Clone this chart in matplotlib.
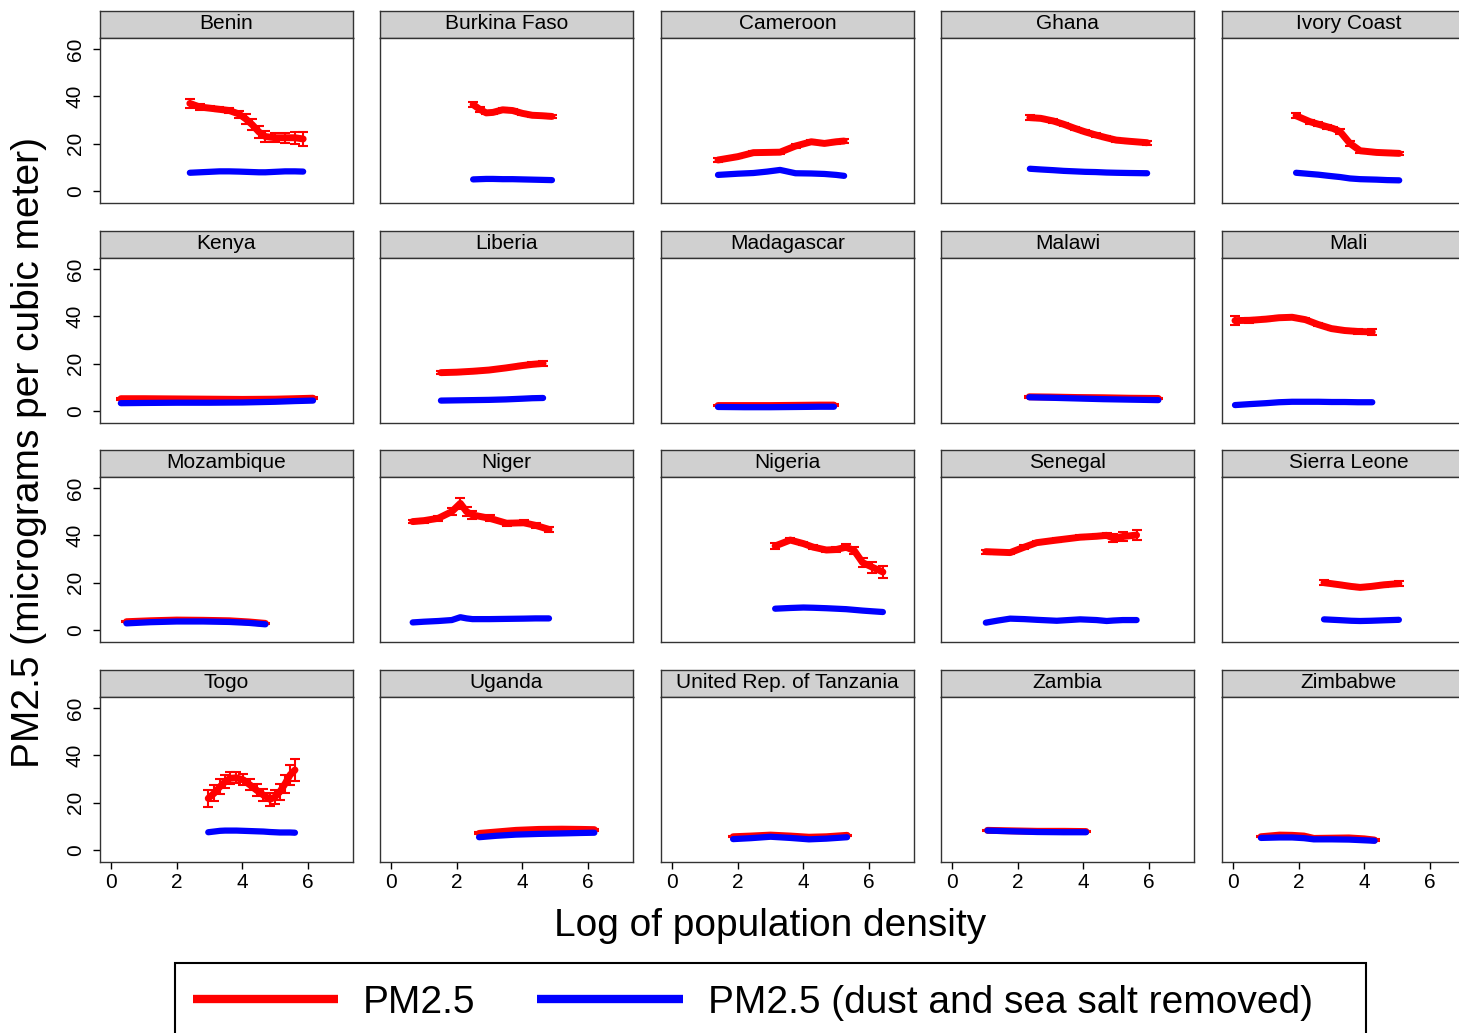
import matplotlib
matplotlib.use("Agg")
import matplotlib.pyplot as plt
from matplotlib.lines import Line2D
from matplotlib.patches import Rectangle

plt.rcParams['font.family'] = ['Liberation Sans', 'DejaVu Sans']

# ---------------------------------------------------------------- data
countries = [
    "Benin", "Burkina Faso", "Cameroon", "Ghana", "Ivory Coast",
    "Kenya", "Liberia", "Madagascar", "Malawi", "Mali",
    "Mozambique", "Niger", "Nigeria", "Senegal", "Sierra Leone",
    "Togo", "Uganda", "United Rep. of Tanzania", "Zambia", "Zimbabwe",
]

# log of population density at which each curve is evaluated
log_density = {
    "Benin": [2.4, 2.7, 3.0, 3.3, 3.6, 3.9, 4.1, 4.3, 4.5, 4.7, 5.0, 5.3, 5.6, 5.85],
    "Burkina Faso": [2.5, 2.7, 2.9, 3.1, 3.4, 3.7, 4.0, 4.3, 4.6, 4.9],
    "Cameroon": [1.4, 2.0, 2.48, 2.9, 3.29, 3.76, 4.24, 4.64, 5.0, 5.24],
    "Ghana": [2.37, 2.7, 3.08, 3.4, 3.73, 4.05, 4.37, 4.7, 5.0, 5.4, 5.94],
    "Ivory Coast": [1.92, 2.34, 2.6, 2.85, 3.05, 3.26, 3.56, 3.87, 4.37, 4.7, 5.06],
    "Kenya": [0.3, 1.0, 2.0, 3.0, 4.0, 5.0, 5.6, 6.15],
    "Liberia": [1.52, 2.0, 2.5, 2.98, 3.5, 4.0, 4.3, 4.63],
    "Madagascar": [1.4, 2.2, 3.0, 3.8, 4.5, 4.93],
    "Malawi": [2.35, 3.0, 3.8, 4.6, 5.4, 6.28],
    "Mali": [0.06, 0.5, 1.0, 1.4, 1.8, 2.2, 2.6, 3.0, 3.4, 3.8, 4.24],
    "Mozambique": [0.47, 1.2, 2.0, 2.8, 3.6, 4.2, 4.7],
    "Niger": [0.66, 1.0, 1.44, 1.85, 2.11, 2.3, 2.48, 3.0, 3.52, 4.04, 4.4, 4.81],
    "Nigeria": [3.14, 3.6, 4.0, 4.3, 4.7, 5.0, 5.3, 5.55, 5.8, 6.1, 6.42],
    "Senegal": [1.03, 1.4, 1.77, 2.2, 2.58, 3.19, 3.9, 4.4, 4.71, 4.91, 5.2, 5.62],
    "Sierra Leone": [2.77, 3.2, 3.6, 3.87, 4.2, 4.6, 5.05],
    "Togo": [2.96, 3.14, 3.32, 3.47, 3.62, 3.82, 4.03, 4.23, 4.43, 4.64, 4.84,
             4.99, 5.14, 5.3, 5.45, 5.6],
    "Uganda": [2.68, 3.2, 3.8, 4.5, 5.2, 5.8, 6.19],
    "United Rep. of Tanzania": [1.86, 2.4, 3.0, 3.6, 4.17, 4.7, 5.33],
    "Zambia": [1.08, 1.8, 2.6, 3.4, 4.08],
    "Zimbabwe": [0.85, 1.42, 1.8, 2.16, 2.46, 3.0, 3.53, 4.0, 4.31],
}

# total PM2.5 (micrograms per cubic meter)
pm25 = {
    "Benin": [37, 35.5, 35, 34.5, 34, 32.5, 30.5, 28, 25, 23, 22.5, 22.5, 22.5, 22],
    "Burkina Faso": [36.5, 34.5, 33, 33.2, 34.3, 34, 32.8, 32, 31.8, 31.5],
    "Cameroon": [13.1, 14.5, 16.2, 16.3, 16.4, 19, 20.8, 20.1, 20.8, 21.1],
    "Ghana": [31, 30.7, 29.6, 28.2, 26.5, 25, 23.7, 22.5, 21.5, 21, 20.4],
    "Ivory Coast": [31.8, 29.3, 28.2, 27.2, 26.4, 25.1, 20.1, 17.0, 16.3, 16.1, 15.9],
    "Kenya": [5.2, 5.2, 5.1, 5.0, 4.9, 5.0, 5.2, 5.4],
    "Liberia": [16.2, 16.4, 16.8, 17.3, 18.2, 19.2, 19.7, 20.1],
    "Madagascar": [2.3, 2.3, 2.3, 2.4, 2.5, 2.5],
    "Malawi": [6.0, 5.9, 5.7, 5.6, 5.4, 5.3],
    "Mali": [38.2, 38.3, 38.8, 39.4, 39.6, 38.6, 36.5, 34.8, 34.0, 33.6, 33.4],
    "Mozambique": [3.5, 3.9, 4.2, 4.1, 3.9, 3.4, 2.8],
    "Niger": [45.8, 46.2, 47.2, 50, 53.5, 50, 48.6, 47.2, 45.1, 45.3, 44.2, 42.5],
    "Nigeria": [35.5, 38, 36.5, 35, 33.8, 34, 35, 33.5, 28.5, 26.5, 24.5],
    "Senegal": [33.1, 32.9, 32.7, 35, 36.9, 38, 39.2, 39.6, 40, 38.8, 39.5, 40.1],
    "Sierra Leone": [20.0, 19.2, 18.4, 18.0, 18.4, 19.1, 19.6],
    "Togo": [21.8, 24, 26.8, 28.8, 30.3, 30.5, 29.6, 27.5, 25.3, 23.2, 21.4,
             22.4, 24.6, 28, 31.7, 33.8],
    "Uganda": [7.0, 7.6, 8.3, 8.7, 8.8, 8.7, 8.6],
    "United Rep. of Tanzania": [5.6, 5.9, 6.3, 5.9, 5.4, 5.6, 6.2],
    "Zambia": [8.3, 8.1, 7.9, 7.9, 7.8],
    "Zimbabwe": [5.6, 6.3, 6.2, 5.9, 4.9, 5.0, 5.1, 4.7, 4.2],
}

# half-width of the confidence interval around total PM2.5
pm25_ci = {
    "Benin": [2, 1.2, 0.8, 0.8, 1, 1.5, 2, 2.3, 2.5, 2.2, 2, 2.2, 2.5, 3],
    "Burkina Faso": [1.2, 1, 0.6, 0.6, 0.6, 0.6, 0.6, 0.6, 0.7, 0.8],
    "Cameroon": [0.8, 0.6, 0.6, 0.6, 0.6, 0.8, 0.8, 0.8, 0.8, 1.0],
    "Ghana": [1.0, 0.7, 0.7, 0.7, 0.7, 0.7, 0.7, 0.7, 0.7, 0.7, 0.8],
    "Ivory Coast": [1.0, 0.8, 0.8, 0.8, 0.8, 0.9, 1.0, 0.8, 0.6, 0.6, 0.6],
    "Kenya": [0.4, 0.4, 0.4, 0.4, 0.4, 0.4, 0.4, 0.4],
    "Liberia": [0.6, 0.6, 0.6, 0.6, 0.6, 0.7, 0.8, 0.9],
    "Madagascar": [0.3, 0.3, 0.3, 0.3, 0.3, 0.3],
    "Malawi": [0.3, 0.3, 0.3, 0.3, 0.3, 0.3],
    "Mali": [1.8, 1.2, 0.8, 0.7, 0.7, 0.7, 0.7, 0.7, 0.8, 0.9, 1.2],
    "Mozambique": [0.3, 0.3, 0.3, 0.3, 0.3, 0.3, 0.3],
    "Niger": [0.8, 0.8, 1.0, 1.5, 2.2, 1.8, 1.5, 1.2, 1.0, 1.0, 1.0, 1.2],
    "Nigeria": [1.2, 1.0, 0.8, 0.8, 0.8, 0.9, 1.2, 1.6, 2.0, 2.4, 2.6],
    "Senegal": [0.8, 0.6, 0.6, 0.7, 0.7, 0.7, 0.8, 0.9, 1.0, 1.8, 1.8, 2.0],
    "Sierra Leone": [1.0, 0.8, 0.7, 0.7, 0.7, 0.8, 1.0],
    "Togo": [3.7, 3.5, 3.2, 2.8, 2.5, 2.3, 2.3, 2.3, 2.5, 2.7, 2.8,
             3.0, 3.3, 3.8, 4.2, 4.6],
    "Uganda": [0.4, 0.4, 0.4, 0.4, 0.4, 0.4, 0.4],
    "United Rep. of Tanzania": [0.3, 0.3, 0.3, 0.3, 0.3, 0.3, 0.3],
    "Zambia": [0.3, 0.3, 0.3, 0.3, 0.3],
    "Zimbabwe": [0.3, 0.3, 0.3, 0.3, 0.3, 0.3, 0.3, 0.3, 0.3],
}

# PM2.5 with dust and sea salt removed
pm25_no_dust = {
    "Benin": [7.7, 7.9, 8.1, 8.3, 8.3, 8.2, 8.1, 8.0, 7.9, 7.9, 8.1, 8.3, 8.3, 8.2],
    "Burkina Faso": [4.9, 5.0, 5.1, 5.1, 5.0, 5.0, 4.9, 4.8, 4.7, 4.6],
    "Cameroon": [6.8, 7.3, 7.6, 8.2, 8.9, 7.5, 7.4, 7.2, 6.8, 6.4],
    "Ghana": [9.4, 9.1, 8.8, 8.5, 8.3, 8.1, 8.0, 7.8, 7.7, 7.6, 7.5],
    "Ivory Coast": [7.7, 7.2, 6.9, 6.5, 6.2, 5.9, 5.3, 5.0, 4.8, 4.6, 4.5],
    "Kenya": [3.3, 3.4, 3.5, 3.5, 3.6, 3.9, 4.2, 4.4],
    "Liberia": [4.4, 4.5, 4.6, 4.7, 4.9, 5.2, 5.4, 5.5],
    "Madagascar": [1.7, 1.6, 1.6, 1.7, 1.8, 1.8],
    "Malawi": [5.8, 5.6, 5.3, 5.0, 4.8, 4.6],
    "Mali": [2.5, 2.9, 3.3, 3.7, 3.9, 3.9, 3.9, 3.8, 3.8, 3.7, 3.7],
    "Mozambique": [2.8, 3.3, 3.6, 3.6, 3.4, 3.0, 2.4],
    "Niger": [3.2, 3.5, 3.8, 4.2, 5.4, 4.9, 4.6, 4.6, 4.7, 4.8, 4.9, 4.9],
    "Nigeria": [9.0, 9.3, 9.5, 9.4, 9.2, 9.0, 8.8, 8.5, 8.2, 7.9, 7.6],
    "Senegal": [3.1, 4.0, 4.8, 4.6, 4.3, 3.9, 4.5, 4.2, 3.8, 4.0, 4.2, 4.2],
    "Sierra Leone": [4.5, 4.2, 3.9, 3.8, 3.9, 4.1, 4.3],
    "Togo": [7.5, 7.8, 8.1, 8.2, 8.2, 8.2, 8.1, 8.0, 7.9, 7.8, 7.6,
             7.5, 7.4, 7.4, 7.4, 7.3],
    "Uganda": [5.4, 6.0, 6.5, 6.8, 7.0, 7.2, 7.3],
    "United Rep. of Tanzania": [4.6, 5.0, 5.6, 5.1, 4.5, 4.8, 5.4],
    "Zambia": [8.2, 7.9, 7.6, 7.5, 7.5],
    "Zimbabwe": [5.1, 5.3, 5.3, 5.0, 4.5, 4.5, 4.4, 4.1, 3.9],
}

x_ticks = [0, 2, 4, 6]
y_ticks = [0, 20, 40, 60]

# ---------------------------------------------------------------- layout
W, H = 1459, 1033
fig = plt.figure(figsize=(W / 100, H / 100), dpi=100)
fig.patch.set_facecolor("white")

col_left = [100, 380, 661, 941, 1222]
strip_top = [11, 231, 450, 670]
panel_w, strip_h, panel_h = 253, 27, 165
frame_col = "#333333"


def rect(left, top, w, h):
    return [left / W, 1 - (top + h) / H, w / W, h / H]


for i, name in enumerate(countries):
    r, c = divmod(i, 5)
    left, top = col_left[c], strip_top[r]

    # header strip
    sax = fig.add_axes(rect(left, top, panel_w, strip_h))
    sax.set_facecolor("#d0d0d0")
    sax.set_xticks([])
    sax.set_yticks([])
    for sp in sax.spines.values():
        sp.set_color(frame_col)
        sp.set_linewidth(1.0)
    sax.text(0.5, 0.55, name, transform=sax.transAxes, ha="center",
             va="center", fontsize=15, color="black")

    # panel
    ax = fig.add_axes(rect(left, top + strip_h, panel_w, panel_h))
    ax.set_xlim(-0.335, 7.367)
    ax.set_ylim(-5.07, 64.64)
    for sp in ax.spines.values():
        sp.set_color(frame_col)
        sp.set_linewidth(1.0)

    x = log_density[name]
    ax.errorbar(x, pm25[name], yerr=pm25_ci[name], fmt="none", ecolor="red",
                elinewidth=1.5, capsize=3.5, capthick=1.5, zorder=2)
    ax.plot(x, pm25[name], color="red", lw=5, solid_capstyle="round",
            solid_joinstyle="round", zorder=3)
    ax.plot(x, pm25_no_dust[name], color="blue", lw=4.5,
            solid_capstyle="round", solid_joinstyle="round", zorder=4)

    ax.set_xticks(x_ticks)
    ax.set_yticks(y_ticks)
    ax.tick_params(axis="both", direction="out", length=5, width=1,
                   color="black", labelsize=15)
    if r == 3:
        ax.set_xticklabels([str(t) for t in x_ticks])
        ax.tick_params(axis="x", pad=3)
    else:
        ax.tick_params(axis="x", bottom=False, labelbottom=False)
    if c == 0:
        ax.set_yticklabels([str(t) for t in y_ticks], rotation=90, va="center")
        ax.tick_params(axis="y", pad=6)
    else:
        ax.tick_params(axis="y", left=False, labelleft=False)

# axis titles
fig.text(29 / W, 1 - 452 / H, "PM2.5 (micrograms per cubic meter)",
         rotation=90, ha="center", va="center", fontsize=28)
fig.text(770 / W, 1 - 936 / H, "Log of population density",
         ha="center", va="baseline", fontsize=28)

# legend box
fig.add_artist(Rectangle((175 / W, -0.02), (1366 - 175) / W,
                         (1033 - 963) / H + 0.02, transform=fig.transFigure,
                         fill=False, edgecolor="black", linewidth=1.5))
legend_y = 1 - 999 / H
fig.add_artist(Line2D([193 / W, 338 / W], [legend_y, legend_y],
                      transform=fig.transFigure, color="red", linewidth=6,
                      solid_capstyle="butt"))
fig.text(363 / W, 1 - 1013 / H, "PM2.5", ha="left", va="baseline", fontsize=28)
fig.add_artist(Line2D([537 / W, 683 / W], [legend_y, legend_y],
                      transform=fig.transFigure, color="blue", linewidth=6,
                      solid_capstyle="butt"))
fig.text(708 / W, 1 - 1013 / H, "PM2.5 (dust and sea salt removed)",
         ha="left", va="baseline", fontsize=28)

fig.savefig("out.png", dpi=100)
